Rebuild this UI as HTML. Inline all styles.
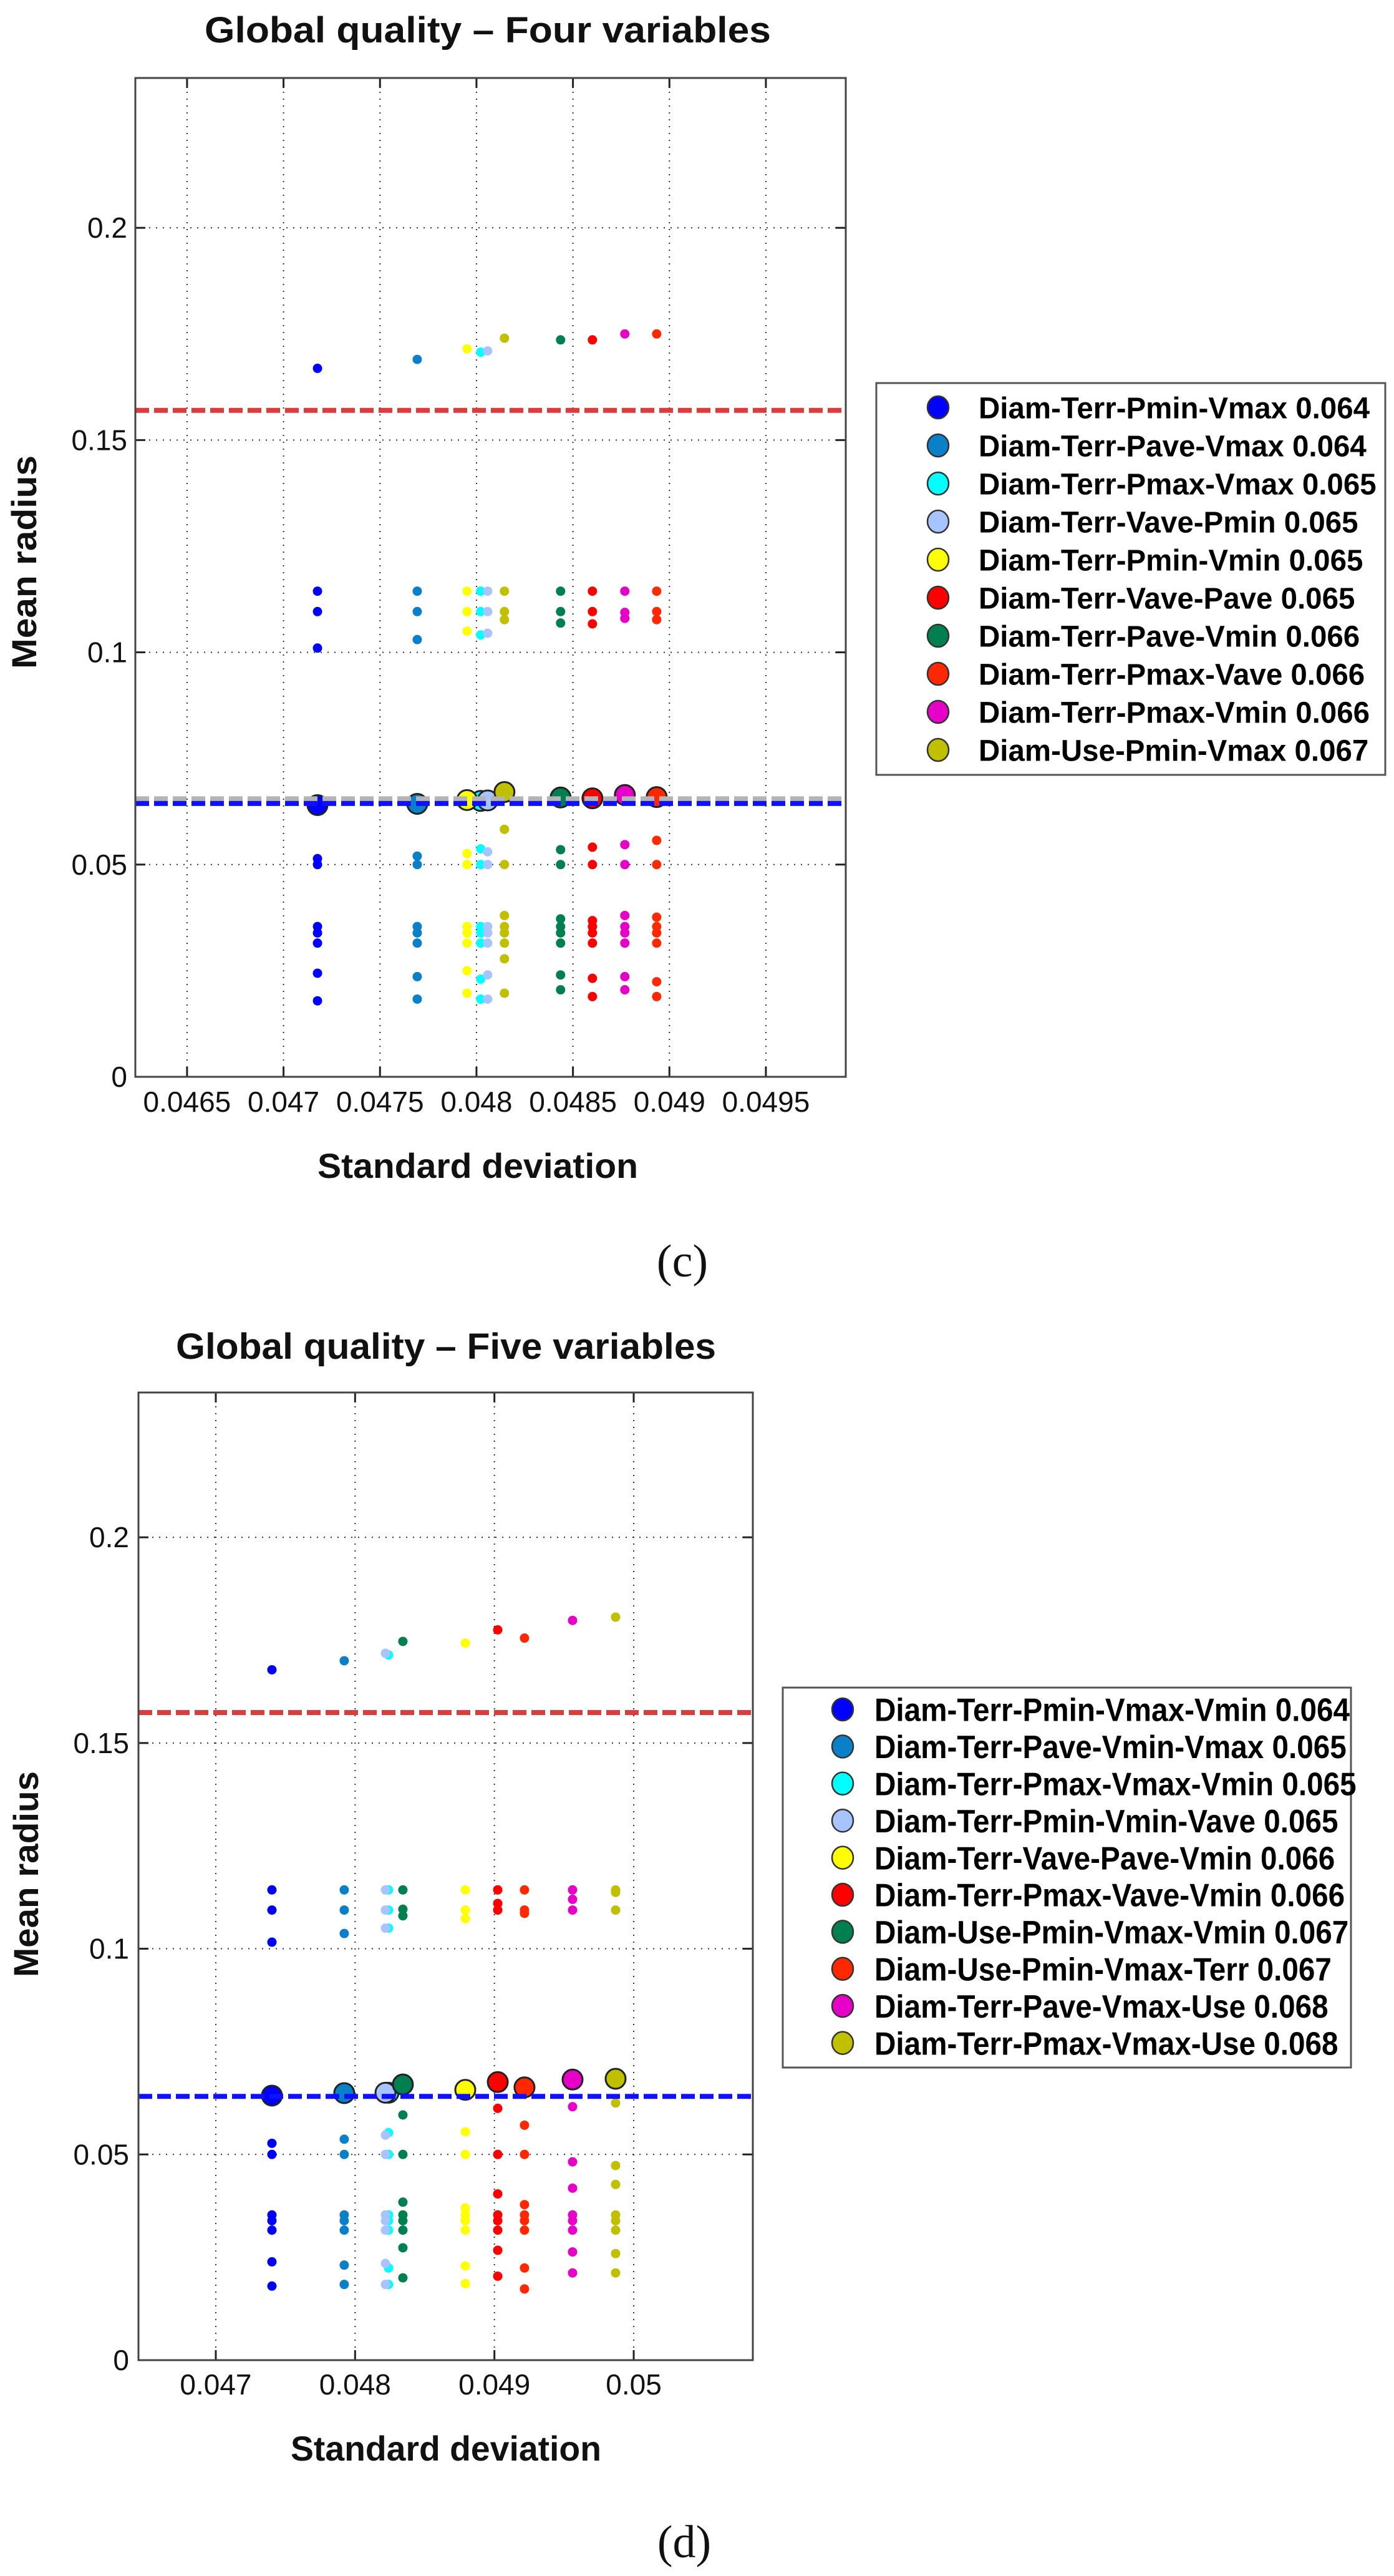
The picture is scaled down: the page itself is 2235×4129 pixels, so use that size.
<!DOCTYPE html>
<html><head><meta charset="utf-8"><title>Global quality charts</title>
<style>
html,body{margin:0;padding:0;background:#fff;}
svg{display:block;}
text{font-family:"Liberation Sans",sans-serif;}
</style></head>
<body>
<svg id="fig" xmlns="http://www.w3.org/2000/svg" width="2235" height="4129" viewBox="0 0 2235 4129">
<rect x="0" y="0" width="2235" height="4129" fill="#fff"/>
</svg>
<script>
// ---------- Chart C data (Four variables) ----------
const namesC = ["Diam-Terr-Pmin-Vmax 0.064","Diam-Terr-Pave-Vmax 0.064","Diam-Terr-Pmax-Vmax 0.065","Diam-Terr-Vave-Pmin 0.065","Diam-Terr-Pmin-Vmin 0.065","Diam-Terr-Vave-Pave 0.065","Diam-Terr-Pave-Vmin 0.066","Diam-Terr-Pmax-Vave 0.066","Diam-Terr-Pmax-Vmin 0.066","Diam-Use-Pmin-Vmax 0.067"];
const colorsC = ["#0000ff","#0a80c8","#00ffff","#a8c4ff","#ffff00","#ff0000","#008050","#ff2800","#e600c8","#c0c000"];
const sdC = [0.047176,0.047693,0.048022,0.048058,0.047951,0.048601,0.048436,0.048934,0.048769,0.048145];
const mainC = [0.064,0.0643,0.0650,0.0651,0.0652,0.0656,0.0658,0.0659,0.0664,0.0671];
const pointsC = [
 [0.1669,0.1144,0.1096,0.1010,0.0514,0.0500,0.0354,0.0339,0.0315,0.0244,0.0179],
 [0.1690,0.1144,0.1096,0.1030,0.0520,0.0500,0.0354,0.0339,0.0315,0.0236,0.0183],
 [0.1707,0.1144,0.1096,0.1041,0.0537,0.0500,0.0354,0.0339,0.0315,0.0230,0.0183],
 [0.1710,0.1144,0.1096,0.1045,0.0530,0.0500,0.0354,0.0339,0.0315,0.0240,0.0183],
 [0.1715,0.1144,0.1096,0.1050,0.0526,0.0500,0.0354,0.0339,0.0315,0.0250,0.0197],
 [0.1736,0.1144,0.1096,0.1067,0.0541,0.0500,0.0368,0.0354,0.0339,0.0315,0.0232,0.0189],
 [0.1736,0.1144,0.1096,0.1069,0.0535,0.0500,0.0372,0.0354,0.0339,0.0315,0.0240,0.0205],
 [0.1750,0.1144,0.1096,0.1077,0.0557,0.0500,0.0376,0.0354,0.0339,0.0315,0.0224,0.0189],
 [0.1750,0.1144,0.1094,0.1080,0.0547,0.0500,0.0380,0.0354,0.0339,0.0315,0.0236,0.0205],
 [0.1740,0.1144,0.1096,0.1077,0.0583,0.0500,0.0380,0.0354,0.0339,0.0315,0.0278,0.0197]
];
const xTicksC = [0.0465,0.047,0.0475,0.048,0.0485,0.049,0.0495];
const xTickLabelsC = ["0.0465","0.047","0.0475","0.048","0.0485","0.049","0.0495"];
const yTicks = [0,0.05,0.1,0.15,0.2];
const yTickLabels = ["0","0.05","0.1","0.15","0.2"];
const hLinesC = [0.157,0.0655,0.0644];

// ---------- Chart D data (Five variables) ----------
const namesD = ["Diam-Terr-Pmin-Vmax-Vmin 0.064","Diam-Terr-Pave-Vmin-Vmax 0.065","Diam-Terr-Pmax-Vmax-Vmin 0.065","Diam-Terr-Pmin-Vmin-Vave 0.065","Diam-Terr-Vave-Pave-Vmin 0.066","Diam-Terr-Pmax-Vave-Vmin 0.066","Diam-Use-Pmin-Vmax-Vmin 0.067","Diam-Use-Pmin-Vmax-Terr 0.067","Diam-Terr-Pave-Vmax-Use 0.068","Diam-Terr-Pmax-Vmax-Use 0.068"];
const colorsD = ["#0000ff","#0a80c8","#00ffff","#a8c4ff","#ffff00","#ff0000","#008050","#ff2800","#e600c8","#c0c000"];
const sdD = [0.047403,0.047922,0.048240,0.048218,0.048791,0.049024,0.048343,0.049216,0.049561,0.049870];
const mainD = [0.0643,0.0649,0.0650,0.0650,0.0657,0.0676,0.0670,0.0663,0.0682,0.0684];
const pointsD = [
 [0.1678,0.1143,0.1094,0.1016,0.0527,0.0500,0.0353,0.0339,0.0316,0.0239,0.0180],
 [0.1700,0.1143,0.1094,0.1037,0.0537,0.0500,0.0353,0.0339,0.0316,0.0231,0.0184],
 [0.1714,0.1143,0.1094,0.1050,0.0553,0.0500,0.0353,0.0339,0.0316,0.0224,0.0184],
 [0.1718,0.1143,0.1094,0.1050,0.0547,0.0500,0.0353,0.0339,0.0316,0.0235,0.0184],
 [0.1743,0.1143,0.1094,0.1073,0.0555,0.0500,0.0370,0.0353,0.0339,0.0316,0.0229,0.0186],
 [0.1775,0.1143,0.1110,0.1094,0.0612,0.0500,0.0404,0.0353,0.0339,0.0316,0.0267,0.0204],
 [0.1747,0.1143,0.1096,0.1080,0.0596,0.0500,0.0384,0.0353,0.0339,0.0316,0.0273,0.0200],
 [0.1755,0.1143,0.1094,0.1086,0.0571,0.0500,0.0378,0.0353,0.0339,0.0316,0.0224,0.0173],
 [0.1798,0.1143,0.1120,0.1094,0.0616,0.0482,0.0418,0.0353,0.0339,0.0316,0.0263,0.0212],
 [0.1806,0.1143,0.1137,0.1094,0.0625,0.0473,0.0427,0.0353,0.0339,0.0316,0.0259,0.0212]
];
const xTicksD = [0.047,0.048,0.049,0.05];
const xTickLabelsD = ["0.047","0.048","0.049","0.05"];
const hLinesD = [0.1574,0.0641];

const NS = "http://www.w3.org/2000/svg";
const svg = document.getElementById('fig');
function mk(tag, attrs, parent){
  const e = document.createElementNS(NS, tag);
  for (const k in attrs) e.setAttribute(k, attrs[k]);
  (parent||svg).appendChild(e);
  return e;
}

function drawChart(cfg){
  const g = mk('g', {});
  
  
  const L=cfg.L,R=cfg.R,T=cfg.T,B=cfg.B;
  const sx = v => L + (v - cfg.xmin)/(cfg.xmax - cfg.xmin)*(R-L);
  const sy = v => B - (v - 0)/(cfg.ymax - 0)*(B-T);

  cfg.xTicks.forEach((t,i)=>{
    const x = sx(t);
    const gl = mk('line',{x1:x,y1:T,x2:x,y2:B,stroke:'#333','stroke-width':2,'stroke-dasharray':'2,9'},g);
    
    
    mk('line',{x1:x,y1:B,x2:x,y2:B-16,stroke:'#222','stroke-width':3},g);
    mk('line',{x1:x,y1:T,x2:x,y2:T+16,stroke:'#222','stroke-width':3},g);
    const tl = mk('text',{x:x,y:cfg.xLabelY,'font-size':46,'text-anchor':'middle',fill:'#111'},g);
    tl.textContent = cfg.xTickLabels[i];
    
    
  });
  yTicks.forEach((t,i)=>{
    const y = sy(t);
    if (t>0){
      const gl = mk('line',{x1:L,y1:y,x2:R,y2:y,stroke:'#333','stroke-width':2,'stroke-dasharray':'2,9'},g);
      
      
    }
    mk('line',{x1:L,y1:y,x2:L+16,y2:y,stroke:'#222','stroke-width':3},g);
    mk('line',{x1:R,y1:y,x2:R-16,y2:y,stroke:'#222','stroke-width':3},g);
    const tl = mk('text',{x:cfg.yLabelX,y:y+16,'font-size':46,'text-anchor':'end',fill:'#111'},g);
    tl.textContent = yTickLabels[i];
    
    
  });

  cfg.points.forEach((arr,si)=>{
    arr.forEach(v=>{
      const c = mk('circle',{cx:sx(cfg.sd[si]),cy:sy(v),r:7.5,fill:cfg.colors[si]},g);
      
      
    });
  });
  cfg.main.forEach((v,si)=>{
    const c = mk('circle',{cx:sx(cfg.sd[si]),cy:sy(v),r:16,fill:cfg.colors[si],stroke:'#222','stroke-width':3},g);
    
    
  });
  cfg.hLines.forEach((v,i)=>{
    const ln = mk('line',{x1:L,y1:sy(v),x2:R,y2:sy(v),stroke:cfg.hColors[i],'stroke-width':8,'stroke-dasharray':'22,8'},g);
    
    
  });
  const fr = mk('rect',{x:L,y:T,width:R-L,height:B-T,fill:'none',stroke:'#444','stroke-width':3},g);
  
  

  const tt = mk('text',{x:cfg.titleX,y:cfg.titleY,'font-size':58,'font-weight':'bold','text-anchor':'middle',textLength:cfg.titleW,lengthAdjust:'spacingAndGlyphs',fill:'#111'},g);
  tt.textContent = cfg.title;
  
  
  const xt = mk('text',{x:cfg.xtX,y:cfg.xtY,'font-size':56,'font-weight':'bold','text-anchor':'middle',textLength:cfg.xtW,lengthAdjust:'spacingAndGlyphs',fill:'#111'},g);
  xt.textContent = 'Standard deviation';
  
  
  const yt = mk('text',{x:0,y:0,'font-size':56,'font-weight':'bold','text-anchor':'middle',textLength:cfg.ytW,lengthAdjust:'spacingAndGlyphs',fill:'#111',transform:'translate('+cfg.ytX+','+cfg.ytY+') rotate(-90)'},g);
  yt.textContent = 'Mean radius';
  
  
  const cap = mk('text',{x:cfg.capX,y:cfg.capY,'font-size':74,'text-anchor':'middle',fill:'#111'},g);
  cap.textContent = cfg.caption;
  
  
  cap.style.fontFamily = '"Liberation Serif",serif';

  const lg = mk('g',{},g);
  
  
  const lb = mk('rect',{x:cfg.lgL,y:cfg.lgT,width:cfg.lgR-cfg.lgL,height:cfg.lgB-cfg.lgT,fill:'#fff',stroke:'#555','stroke-width':3},lg);
  
  
  let factor = null;
  cfg.names.forEach((n,i)=>{
    const y = cfg.lgY0 + i*cfg.lgStep;
    const e = mk('g',{},lg);
    
    
    mk('ellipse',{cx:cfg.lgMX,cy:y,rx:17,ry:18,fill:cfg.colors[i],stroke:'#333','stroke-width':2.5},e);
    const t = mk('text',{x:cfg.lgTX,y:y+cfg.lgFS*0.36,'font-size':cfg.lgFS,'font-weight':'bold',fill:'#000'},e);
    t.textContent = n;
    const nat = t.getComputedTextLength();
    if (factor===null) factor = cfg.lgW0/nat;
    t.setAttribute('textLength', nat*factor);
    t.setAttribute('lengthAdjust','spacingAndGlyphs');
  });
}

drawChart({key:'four-variables',L:217,R:1356,T:125,B:1726,xmin:0.046232,xmax:0.049914,ymax:0.2353,
  xTicks:xTicksC,xTickLabels:xTickLabelsC,yLabelX:204,xLabelY:1782,
  points:pointsC,main:mainC,sd:sdC,colors:colorsC,names:namesC,
  hLines:hLinesC,hColors:['#dc3c3c','#b4b4b4','#1010ff'],
  title:'Global quality \u2013 Four variables',titleX:782,titleY:68,titleW:908,
  xtX:766,xtY:1888,xtW:514,ytX:58,ytY:901,ytW:342,caption:'(c)',capX:1094,capY:2046,
  lgL:1405,lgT:614,lgR:2221,lgB:1242,lgY0:653,lgStep:61,lgMX:1504,lgTX:1569,lgFS:48,lgW0:627});

drawChart({key:'five-variables',L:222,R:1207,T:2232,B:3783,xmin:0.046445,xmax:0.050855,ymax:0.2352,
  xTicks:xTicksD,xTickLabels:xTickLabelsD,yLabelX:207,xLabelY:3838,
  points:pointsD,main:mainD,sd:sdD,colors:colorsD,names:namesD,
  hLines:hLinesD,hColors:['#dc3c3c','#1010ff'],
  title:'Global quality \u2013 Five variables',titleX:715,titleY:2178,titleW:866,
  xtX:715,xtY:3944,xtW:498,ytX:61,ytY:3004,ytW:330,caption:'(d)',capX:1097,capY:4099,
  lgL:1255,lgT:2705,lgR:2166,lgB:3314,lgY0:2740,lgStep:59.4,lgMX:1351,lgTX:1402,lgFS:52,lgW0:762});
</script>
</body></html>
